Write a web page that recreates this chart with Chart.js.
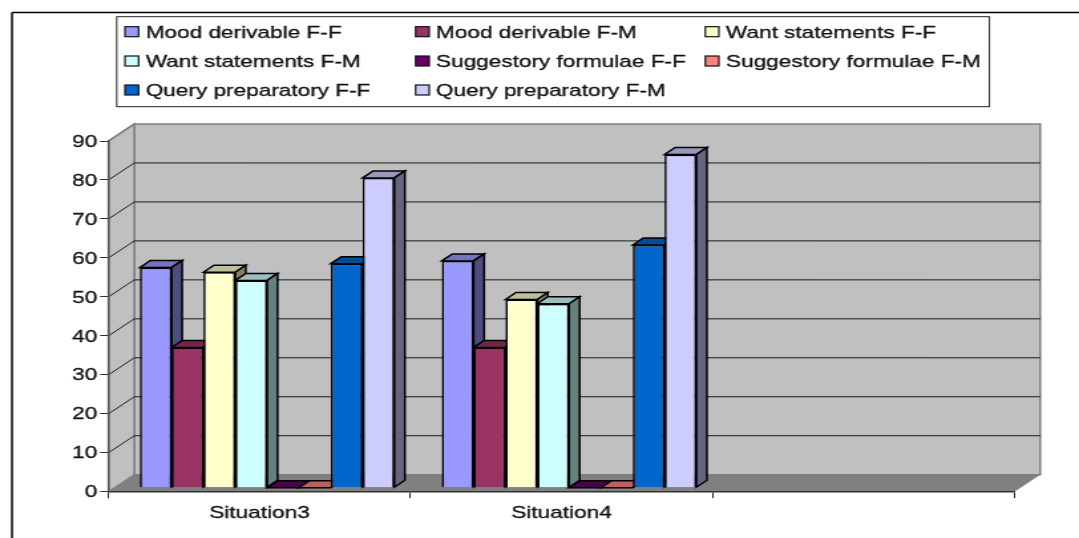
<!DOCTYPE html>
<html>
<head>
<meta charset="utf-8">
<script src="https://cdn.jsdelivr.net/npm/chart.js@4"></script>
<style>
html,body{margin:0;padding:0;background:#fff;overflow:hidden;width:1079px;height:538px}
#wrap{position:absolute;left:0;top:0;width:812px;height:538px;transform-origin:0 0}
canvas{display:block}
</style>
</head>
<body>
<div id="wrap"><canvas id="c" width="812" height="538"></canvas></div>
<script>
const categories = ['Situation3', 'Situation4', ''];
const moodFF = [56.5, 58.2, null];
const moodFM = [36, 36, null];
const wantFF = [55.3, 48.3, null];
const wantFM = [53.2, 47.2, null];
const suggFF = [0, 0, null];
const suggFM = [0, 0, null];
const queryFF = [57.5, 62.3, null];
const queryFM = [79.5, 85.5, null];
const seriesNames = ['Mood derivable F-F','Mood derivable F-M','Want statements F-F','Want statements F-M','Suggestory formulae F-F','Suggestory formulae F-M','Query preparatory F-F','Query preparatory F-M'];
const seriesValues = [moodFF, moodFM, wantFF, wantFM, suggFF, suggFM, queryFF, queryFM];
const seriesColors = [[153,153,255],[153,51,102],[255,255,204],[204,255,255],[102,0,102],[255,128,128],[0,102,204],[204,204,255]];

const SX = 1079 / 812;
document.getElementById('wrap').style.transform = 'scale(' + SX + ',1)';
const X = p => p / SX;
const FONT = '17px "Liberation Sans", Arial, sans-serif';
const rgb = (c, f) => 'rgb(' + c.map(v => Math.round(v * f)).join(',') + ')';

const wallDX = X(25.8), wallDY = 17;
const barOX = X(7.6), barOY = 4;
const barDX = X(10.5), barDY = 7;

function poly(ctx, pts, fill, stroke, lw) {
  ctx.beginPath();
  pts.forEach((p, i) => i ? ctx.lineTo(p[0], p[1]) : ctx.moveTo(p[0], p[1]));
  ctx.closePath();
  if (fill) { ctx.fillStyle = fill; ctx.fill(); }
  if (stroke) { ctx.strokeStyle = stroke; ctx.lineWidth = lw; ctx.stroke(); }
}
function line(ctx, x1, y1, x2, y2, color, lw) {
  ctx.beginPath(); ctx.moveTo(x1, y1); ctx.lineTo(x2, y2);
  ctx.strokeStyle = color; ctx.lineWidth = lw; ctx.stroke();
}

const scene3d = {
  id: 'scene3d',
  beforeDraw(chart) {
    const ctx = chart.ctx, a = chart.chartArea, ys = chart.scales.y;
    ctx.save();
    line(ctx, X(12), 12.5, 812, 12.5, '#000', 1.5);
    line(ctx, X(12), 12.5, X(12), 538, '#000', 1.5);
    const l = a.left, r = a.right, t = a.top, b = a.bottom;
    poly(ctx, [[l + wallDX, t - wallDY], [r + wallDX, t - wallDY], [r + wallDX, b - wallDY], [l + wallDX, b - wallDY]], '#c0c0c0', '#808080', 1.5);
    poly(ctx, [[l, t], [l + wallDX, t - wallDY], [l + wallDX, b - wallDY], [l, b]], '#c0c0c0', '#808080', 1.5);
    poly(ctx, [[l, b], [l + wallDX, b - wallDY], [r + wallDX, b - wallDY], [r, b]], '#808080', null, 0);
    ys.ticks.forEach(tk => {
      if (tk.value === 0 || tk.value === ys.max) return;
      const y = ys.getPixelForValue(tk.value);
      line(ctx, l, y, l + wallDX, y - wallDY, '#1a1a1a', 1);
      line(ctx, l + wallDX, y - wallDY, r + wallDX, y - wallDY, '#1a1a1a', 1);
    });
    line(ctx, l, t, l + wallDX, t - wallDY, '#808080', 1.5);
    const bx = X(116.7), bw = X(989.4) - bx;
    ctx.fillStyle = '#fff'; ctx.fillRect(bx, 16.7, bw, 90);
    ctx.strokeStyle = '#222'; ctx.lineWidth = 1; ctx.strokeRect(bx, 16.7, bw, 90);
    const colSw = [125, 415.6, 705.3], colTx = [145.7, 436, 726], rows = [31.7, 61, 90];
    ctx.font = FONT; ctx.textBaseline = 'middle'; ctx.textAlign = 'left';
    chart.data.datasets.forEach((ds, i) => {
      const c = i % 3, rw = Math.floor(i / 3), y = rows[rw];
      ctx.fillStyle = ds.backgroundColor;
      ctx.fillRect(X(colSw[c]), y - 5, X(13.6), 10);
      ctx.strokeStyle = '#111'; ctx.lineWidth = 1.2;
      ctx.strokeRect(X(colSw[c]), y - 5, X(13.6), 10);
      ctx.fillStyle = '#111';
      ctx.strokeStyle = '#111'; ctx.lineWidth = 0.3;
      ctx.fillText(ds.label, X(colTx[c]), y + 1.5);
      ctx.strokeText(ds.label, X(colTx[c]), y + 1.5);
    });
    ctx.restore();
  },
  beforeDatasetsDraw(chart) {
    const ctx = chart.ctx;
    ctx.save();
    ctx.translate(barOX, -barOY);
    ctx.lineJoin = 'miter';
    chart.data.datasets.forEach((ds, i) => {
      const meta = chart.getDatasetMeta(i), col = seriesColors[i];
      meta.data.forEach((el, j) => {
        if (ds.data[j] === null) return;
        const p = el.getProps(['x', 'y', 'base', 'width'], true);
        const L = p.x - p.width / 2, R = p.x + p.width / 2;
        poly(ctx, [[L, p.y], [L + barDX, p.y - barDY], [R + barDX, p.y - barDY], [R, p.y]], rgb(col, 0.75), '#000', 1.5);
        if (p.base - p.y > 0.5) {
          poly(ctx, [[R, p.y], [R + barDX, p.y - barDY], [R + barDX, p.base - barDY], [R, p.base]], rgb(col, 0.5), '#000', 1.5);
        }
      });
    });
  },
  afterDatasetsDraw(chart) { chart.ctx.restore(); }
};

const tickFont = { family: '"Liberation Sans", Arial, sans-serif', size: 17 };
new Chart(document.getElementById('c'), {
  type: 'bar',
  data: {
    labels: categories,
    datasets: seriesNames.map((name, i) => ({
      label: name,
      data: seriesValues[i],
      backgroundColor: rgb(seriesColors[i], 1),
      borderColor: '#000',
      borderWidth: 1.6,
      categoryPercentage: 0.843,
      barPercentage: 1,
      clip: false
    }))
  },
  options: {
    responsive: false,
    animation: false,
    devicePixelRatio: 1,
    layout: { padding: { left: X(108.5) - 42, right: 812 - X(1014.5), top: 141, bottom: 0 } },
    plugins: { legend: { display: false }, tooltip: { enabled: false }, title: { display: false } },
    scales: {
      x: {
        afterFit(s) { s.height = 538 - 491.7; },
        grid: { display: true, drawOnChartArea: false, drawTicks: true, tickLength: 6.5, color: '#222', lineWidth: 1 },
        border: { display: true, color: '#333', width: 1.5 },
        ticks: { color: '#111', font: tickFont, padding: 5, maxRotation: 0, autoSkip: false, textStrokeColor: '#111', textStrokeWidth: 0.3 }
      },
      y: {
        min: 0, max: 90,
        afterFit(s) { s.width = 42; },
        grid: { display: true, drawOnChartArea: false, drawTicks: true, tickLength: X(8.5), color: '#333', lineWidth: 1 },
        border: { display: true, color: '#555', width: 1.5 },
        ticks: { stepSize: 10, color: '#111', font: tickFont, padding: 2, labelOffset: 1, textStrokeColor: '#111', textStrokeWidth: 0.3 }
      }
    }
  },
  plugins: [scene3d]
});
</script>
</body>
</html>
